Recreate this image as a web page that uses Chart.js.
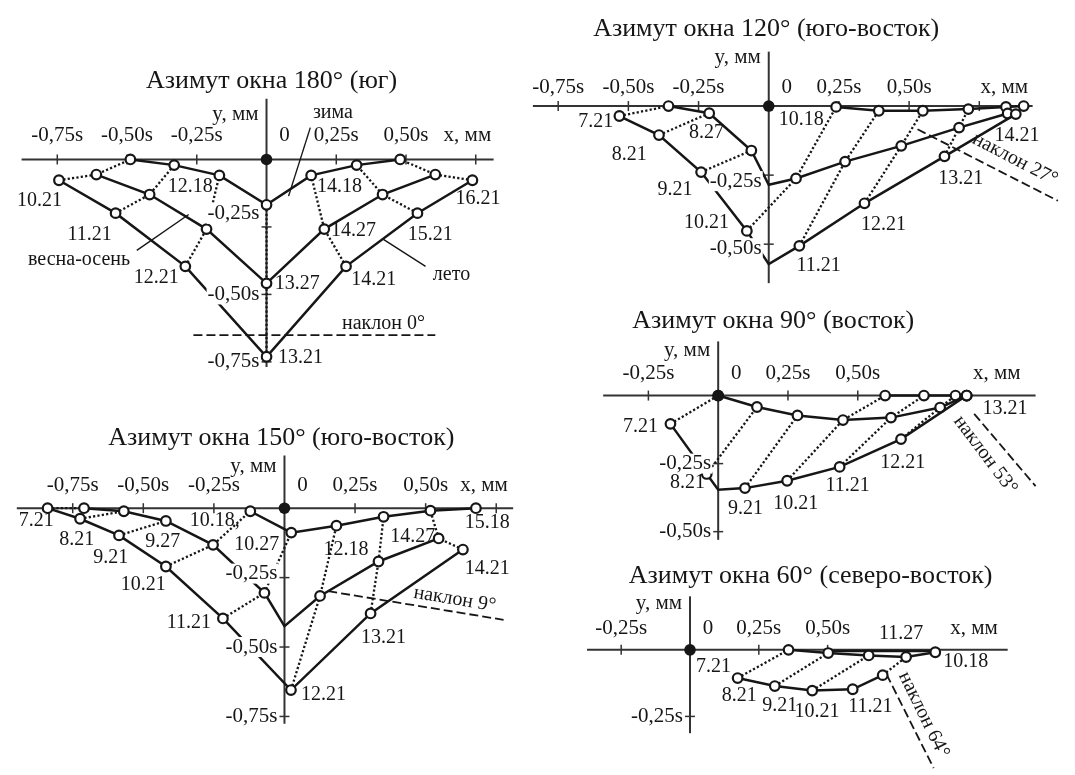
<!DOCTYPE html>
<html>
<head>
  <meta charset="utf-8">
  <title>Траектории солнечного пятна</title>
  <script src="https://cdn.jsdelivr.net/npm/chart.js"></script>
  <style>
    body { margin: 0; background: #fff; }
    #page { position: relative; width: 1075px; height: 775px; overflow: hidden; background: #fff; }
    #page canvas { position: absolute; }
  </style>
</head>
<body>
  <div id="page"></div>
  <script>
    // values in units of s (the tick step is 0.25s); hours like '10.21' = time of the point
    // null hour = bend of a curve at x = 0 with no marker

    // Азимут окна 180° (юг)
    const az180_summer_x = [-0.744, -0.541, -0.291, 0, 0.285, 0.541, 0.738];
    const az180_summer_y = [-0.077, -0.199, -0.396, -0.731, -0.396, -0.199, -0.077];
    const az180_summer_h = ['10.21', '11.21', '12.21', '13.21', '14.21', '15.21', '16.21'];
    const az180_equinox_x = [-0.610, -0.419, -0.215, 0, 0.207, 0.416, 0.605];
    const az180_equinox_y = [-0.056, -0.130, -0.258, -0.459, -0.258, -0.130, -0.056];
    const az180_equinox_h = ['10.27', '11.27', '12.27', '13.27', '14.27', '15.27', '16.27'];
    const az180_winter_x = [-0.488, -0.331, -0.169, 0, 0.160, 0.323, 0.479];
    const az180_winter_y = [0, -0.021, -0.059, -0.168, -0.059, -0.021, 0];
    const az180_winter_h = ['10.18', '11.18', '12.18', '13.18', '14.18', '15.18', '16.18'];
    const az180_xticks = [-0.75, -0.5, -0.25, 0.25, 0.5, 0.75];
    const az180_xtickLabels = ['-0,75s', '-0,50s', '-0,25s', '0,25s', '0,50s', ''];
    const az180_yticks = [-0.25, -0.5, -0.75];
    const az180_ytickLabels = ['-0,25s', '-0,50s', '-0,75s'];

    // Азимут окна 150° (юго-восток)
    const az150_summer_x = [-0.839, -0.724, -0.586, -0.420, -0.218, 0.023, 0.305, 0.632];
    const az150_summer_y = [0, -0.038, -0.098, -0.210, -0.397, -0.655, -0.379, -0.149];
    const az150_summer_h = ['7.21', '8.21', '9.21', '10.21', '11.21', '12.21', '13.21', '14.21'];
    const az150_equinox_x = [-0.710, -0.569, -0.420, -0.253, -0.071, 0, 0.126, 0.333, 0.546];
    const az150_equinox_y = [0, -0.011, -0.046, -0.132, -0.305, -0.425, -0.316, -0.192, -0.109];
    const az150_equinox_h = ['7.27', '8.27', '9.27', '10.27', '11.27', null, '12.27', '13.27', '14.27'];
    const az150_winter_x = [-0.121, 0.024, 0.184, 0.351, 0.517, 0.678];
    const az150_winter_y = [-0.011, -0.088, -0.063, -0.031, -0.009, 0];
    const az150_winter_h = ['10.18', '11.18', '12.18', '13.18', '14.18', '15.18'];
    const az150_xticks = [-0.75, -0.5, -0.25, 0.25, 0.5, 0.75];
    const az150_xtickLabels = ['-0,75s', '-0,50s', '-0,25s', '0,25s', '0,50s', ''];
    const az150_yticks = [-0.25, -0.5, -0.75];
    const az150_ytickLabels = ['-0,25s', '-0,50s', '-0,75s'];

    // Азимут окна 120° (юго-восток)
    const az120_summer_x = [-0.532, -0.391, -0.241, -0.078, 0, 0.109, 0.341, 0.626, 0.880];
    const az120_summer_y = [-0.036, -0.105, -0.239, -0.452, -0.572, -0.506, -0.352, -0.182, -0.029];
    const az120_summer_h = ['7.21', '8.21', '9.21', '10.21', null, '11.21', '12.21', '13.21', '14.21'];
    const az120_equinox_x = [-0.357, -0.212, -0.062, 0, 0.097, 0.272, 0.472, 0.678, 0.851];
    const az120_equinox_y = [0, -0.026, -0.161, -0.285, -0.262, -0.201, -0.144, -0.078, -0.027];
    const az120_equinox_h = ['7.27', '8.27', '9.27', null, '10.27', '11.27', '12.27', '13.27', '14.27'];
    const az120_winter_x = [0.240, 0.392, 0.549, 0.711, 0.845, 0.908];
    const az120_winter_y = [-0.003, -0.017, -0.017, -0.011, -0.003, 0];
    const az120_winter_h = ['10.18', '11.18', '12.18', '13.18', '14.18', '15.18'];
    const az120_xticks = [-0.75, -0.5, -0.25, 0.25, 0.5, 0.75];
    const az120_xtickLabels = ['-0,75s', '-0,50s', '-0,25s', '0,25s', '0,50s', ''];
    const az120_yticks = [-0.25, -0.5];
    const az120_ytickLabels = ['-0,25s', '-0,50s'];

    // Азимут окна 90° (восток)
    const az90_summer_x = [-0.171, -0.041, 0, 0.096, 0.247, 0.435, 0.655, 0.890];
    const az90_summer_y = [-0.104, -0.288, -0.346, -0.340, -0.313, -0.262, -0.160, 0];
    const az90_summer_h = ['7.21', '8.21', null, '9.21', '10.21', '11.21', '12.21', '13.21'];
    const az90_equinox_x = [0, 0.139, 0.284, 0.447, 0.619, 0.795, 0.890];
    const az90_equinox_y = [0, -0.042, -0.073, -0.090, -0.081, -0.044, 0];
    const az90_equinox_h = ['7.27', '8.27', '9.27', '10.27', '11.27', '12.27', '13.27'];
    const az90_winter_x = [0.598, 0.737, 0.850, 0.890];
    const az90_winter_y = [0, 0, 0, 0];
    const az90_winter_h = ['10.18', '11.18', '12.18', '13.18'];
    const az90_xticks = [-0.25, 0.25, 0.5];
    const az90_xtickLabels = ['-0,25s', '0,25s', '0,50s'];
    const az90_yticks = [-0.25, -0.5];
    const az90_ytickLabels = ['-0,25s', '-0,50s'];

    // Азимут окна 60° (северо-восток)
    const az60_summer_x = [0.173, 0.308, 0.444, 0.591, 0.700];
    const az60_summer_y = [-0.106, -0.136, -0.153, -0.148, -0.095];
    const az60_summer_h = ['7.21', '8.21', '9.21', '10.21', '11.21'];
    const az60_equinox_x = [0.358, 0.502, 0.649, 0.785, 0.891];
    const az60_equinox_y = [0, -0.012, -0.021, -0.027, -0.009];
    const az60_equinox_h = ['7.27', '8.27', '9.27', '11.27', '12.27'];
    const az60_winter_x = [0.520, 0.891];
    const az60_winter_y = [-0.004, -0.004];
    const az60_winter_h = [null, null];
    const az60_xticks = [-0.25, 0.25, 0.5];
    const az60_xtickLabels = ['-0,25s', '0,25s', '0,50s'];
    const az60_yticks = [-0.25];
    const az60_ytickLabels = ['-0,25s'];

    const INK = '#161616';
    const AXIS = '#333';
    const SERIF = '"Liberation Serif", "DejaVu Serif", serif';

    // text annotations: [text, x, y] in the chart's own units (centre of the text)
    const az180_labels = [
      ['10.21', -0.814, -0.154], ['11.21', -0.634, -0.278], ['12.21', -0.395, -0.438],
      ['13.27', 0.110, -0.462], ['14.21', 0.384, -0.444], ['15.21', 0.587, -0.278],
      ['16.21', 0.758, -0.147], ['12.18', -0.273, -0.101], ['14.18', 0.262, -0.101],
      ['14.27', 0.312, -0.263], ['13.21', 0.122, -0.734], ['зима', 0.238, 0.172],
      ['весна-осень', -0.672, -0.373], ['лето', 0.663, -0.426]
    ];
    const az150_labels = [
      ['7.21', -0.879, -0.046], ['8.21', -0.736, -0.115], ['9.21', -0.615, -0.178],
      ['9.27', -0.431, -0.121], ['10.18,', -0.247, -0.046], ['10.27', -0.098, -0.132],
      ['10.21', -0.5, -0.276], ['12.18', 0.218, -0.149], ['14.27', 0.454, -0.103],
      ['15.18', 0.718, -0.052], ['14.21', 0.718, -0.218], ['11.21', -0.339, -0.414],
      ['13.21', 0.351, -0.466], ['12.21', 0.138, -0.672]
    ];
    const az120_labels = [
      ['7.21', -0.616, -0.055], ['8.21', -0.497, -0.176], ['8.27', -0.222, -0.096],
      ['9.21', -0.334, -0.302], ['10.21', -0.222, -0.423], ['11.21', 0.178, -0.578],
      ['12.21', 0.409, -0.429], ['13.21', 0.684, -0.262], ['14.21', 0.884, -0.107],
      ['10.18', 0.116, -0.049]
    ];
    const az90_labels = [
      ['7.21', -0.278, -0.114], ['8.21', -0.110, -0.322], ['9.21', 0.098, -0.414],
      ['10.21', 0.278, -0.397], ['11.21', 0.464, -0.333], ['12.21', 0.661, -0.247],
      ['13.21', 1.027, -0.049]
    ];
    const az60_labels = [
      ['7.21', 0.085, -0.062], ['8.21', 0.179, -0.174], ['9.21', 0.326, -0.209],
      ['10.21', 0.461, -0.232], ['11.21', 0.655, -0.215], ['11.27', 0.767, 0.059],
      ['10.18', 1.002, -0.045]
    ];

    function pts(xs, ys, hs) {
      return xs.map((x, i) => ({ x: x, y: ys[i], h: hs[i] }));
    }

    function curve(data) {
      return {
        data: data, showLine: true, order: 1,
        borderColor: INK, borderWidth: 2.5,
        pointRadius: c => (c.raw && c.raw.h) ? 4.8 : 0,
        pointHoverRadius: c => (c.raw && c.raw.h) ? 4.8 : 0,
        pointBackgroundColor: '#fff', pointBorderColor: INK, pointBorderWidth: 2.2
      };
    }

    // dotted lines joining points of the same hour (summer -> equinox -> winter)
    function hourLines(seasons) {
      const groups = {};
      seasons.forEach(s => s.forEach(p => {
        if (!p.h) return;
        const hr = p.h.split('.')[0];
        (groups[hr] = groups[hr] || []).push({ x: p.x, y: p.y });
      }));
      return Object.values(groups).filter(g => g.length > 1).map(g => ({
        data: g, showLine: true, order: 2,
        borderColor: INK, borderWidth: 2.3, borderDash: [2.2, 2.2],
        pointRadius: 0, pointHoverRadius: 0
      }));
    }

    const decor = {
      id: 'decor',
      beforeDatasetsDraw(chart, args, o) {
        const ctx = chart.ctx, xs = chart.scales.x, ys = chart.scales.y;
        const X = v => xs.getPixelForValue(v), Y = v => ys.getPixelForValue(v);
        const seg = (a, b, c, d) => { ctx.beginPath(); ctx.moveTo(a, b); ctx.lineTo(c, d); ctx.stroke(); };
        ctx.save();
        ctx.strokeStyle = AXIS;
        ctx.lineWidth = 2;
        seg(X(o.xAxis[0]), Y(0), X(o.xAxis[1]), Y(0));
        seg(X(0), Y(o.yAxis[0]), X(0), Y(o.yAxis[1]));
        ctx.lineWidth = 1.5;
        o.xTicks.forEach(t => seg(X(t), Y(0) - 5, X(t), Y(0) + 5));
        o.yTicks.forEach(t => seg(X(0) - 5, Y(t), X(0) + 5, Y(t)));
        ctx.strokeStyle = INK;
        ctx.lineWidth = 1.4;
        (o.leaders || []).forEach(l => seg(X(l[0]), Y(l[1]), X(l[2]), Y(l[3])));
        if (o.tilt) {
          ctx.lineWidth = 1.8;
          ctx.setLineDash([9, 4]);
          seg(X(o.tilt.from[0]), Y(o.tilt.from[1]), X(o.tilt.to[0]), Y(o.tilt.to[1]));
          ctx.setLineDash([]);
        }
        ctx.restore();
      },
      afterDatasetsDraw(chart, args, o) {
        const ctx = chart.ctx, xs = chart.scales.x, ys = chart.scales.y;
        const X = v => xs.getPixelForValue(v), Y = v => ys.getPixelForValue(v);
        ctx.save();
        ctx.fillStyle = INK;
        ctx.textBaseline = 'middle';

        // y tick labels, on a white patch like in the print
        ctx.font = '21px ' + SERIF;
        ctx.textAlign = 'right';
        o.yTicks.forEach((t, i) => {
          const s = o.yTickLabels[i], w = ctx.measureText(s).width;
          const px = X(0) - 7, py = Y(t) + (o.yLabelDy ? o.yLabelDy[i] : 0);
          ctx.fillStyle = '#fff';
          ctx.fillRect(px - w - 1, py - 10, w + 2, 20);
          ctx.fillStyle = INK;
          ctx.fillText(s, px, py);
        });

        // x tick labels above the axis
        ctx.textAlign = 'center';
        o.xTicks.forEach((t, i) => {
          if (o.xTickLabels[i]) ctx.fillText(o.xTickLabels[i], X(t), Y(0) - o.tickDy);
        });
        ctx.fillText('0', X(0) + 18, Y(0) - o.tickDy);
        ctx.fillText('x, мм', X(o.xName), Y(0) - o.tickDy);
        ctx.textAlign = 'right';
        ctx.fillText('y, мм', X(0) - 8, Y(o.yName));

        // point labels
        ctx.font = '20px ' + SERIF;
        ctx.textAlign = 'center';
        o.labels.forEach(l => ctx.fillText(l[0], X(l[1]), Y(l[2])));

        if (o.tilt) {
          ctx.save();
          ctx.translate(X(o.tilt.at[0]), Y(o.tilt.at[1]));
          ctx.rotate(o.tilt.angle * Math.PI / 180);
          ctx.fillText(o.tilt.text, 0, 0);
          ctx.restore();
        }

        ctx.font = '26px ' + SERIF;
        ctx.fillText(o.title, X(o.titleAt[0]), Y(o.titleAt[1]));

        // origin: the window point
        ctx.beginPath();
        ctx.arc(X(0), Y(0), 5.8, 0, Math.PI * 2);
        ctx.fill();
        ctx.restore();
      }
    };

    // box = canvas [left, top, width, height] on the page, origin in page px, k = px per unit s
    function makeChart(box, origin, k, seasons, deco) {
      const [L, T, W, H] = box, [ox, oy] = origin, [kx, ky] = k;
      const cv = document.createElement('canvas');
      cv.width = W; cv.height = H;
      cv.style.left = L + 'px'; cv.style.top = T + 'px';
      document.getElementById('page').appendChild(cv);
      const datasets = seasons.map(curve).concat(hourLines(seasons));
      return new Chart(cv, {
        type: 'scatter',
        data: { datasets: datasets },
        options: {
          responsive: false, animation: false, events: [],
          layout: { padding: 0 },
          elements: { line: { tension: 0 } },
          scales: {
            x: { type: 'linear', display: false, min: (L - ox) / kx, max: (L + W - ox) / kx },
            y: { type: 'linear', display: false, min: (oy - T - H) / ky, max: (oy - T) / ky }
          },
          plugins: { legend: { display: false }, tooltip: { enabled: false }, decor: deco }
        },
        plugins: [decor]
      });
    }

    makeChart([0, 55, 520, 335], [266.7, 156.7], [286.7, 281.7], [
      pts(az180_summer_x, az180_summer_y, az180_summer_h),
      pts(az180_equinox_x, az180_equinox_y, az180_equinox_h),
      pts(az180_winter_x, az180_winter_y, az180_winter_h)
    ], {
      title: 'Азимут окна 180° (юг)', titleAt: [0.018, 0.29],
      xAxis: [-0.878, 0.814], yAxis: [0.225, -0.769],
      xTicks: az180_xticks, xTickLabels: az180_xtickLabels, tickDy: 24,
      yTicks: az180_yticks, yTickLabels: az180_ytickLabels, yLabelDy: [-13, 0, 0],
      xName: 0.72, yName: 0.166,
      labels: az180_labels,
      leaders: [[0.157, 0.118, 0.079, -0.136], [-0.465, -0.337, -0.279, -0.204], [0.570, -0.396, 0.419, -0.296]],
      tilt: { from: [-0.262, -0.651], to: [0.605, -0.651], text: 'наклон 0°', at: [0.419, -0.609], angle: 0 }
    });

    makeChart([0, 415, 530, 330], [285, 505], [290, 290], [
      pts(az150_summer_x, az150_summer_y, az150_summer_h),
      pts(az150_equinox_x, az150_equinox_y, az150_equinox_h),
      pts(az150_winter_x, az150_winter_y, az150_winter_h)
    ], {
      title: 'Азимут окна 150° (юго-восток)', titleAt: [-0.011, 0.253],
      xAxis: [-0.948, 0.81], yAxis: [0.19, -0.776],
      xTicks: az150_xticks, xTickLabels: az150_xtickLabels, tickDy: 23,
      yTicks: az150_yticks, yTickLabels: az150_ytickLabels, yLabelDy: [-4, 0, 0],
      xName: 0.707, yName: 0.149,
      labels: az150_labels,
      tilt: { from: [0.155, -0.299], to: [0.776, -0.402], text: 'наклон 9°', at: [0.603, -0.328], angle: 9.4 }
    });

    makeChart([520, 0, 555, 295], [768, 104], [288, 290], [
      pts(az120_summer_x, az120_summer_y, az120_summer_h),
      pts(az120_equinox_x, az120_equinox_y, az120_equinox_h),
      pts(az120_winter_x, az120_winter_y, az120_winter_h)
    ], {
      title: 'Азимут окна 120° (юго-восток)', titleAt: [-0.009, 0.278],
      xAxis: [-0.84, 0.94], yAxis: [0.197, -0.641],
      xTicks: az120_xticks, xTickLabels: az120_xtickLabels, tickDy: 19,
      yTicks: az120_yticks, yTickLabels: az120_ytickLabels, yLabelDy: [6, 4],
      xName: 0.839, yName: 0.176,
      labels: az120_labels,
      tilt: { from: [0.53, -0.084], to: [1.03, -0.343], text: 'наклон 27°', at: [0.877, -0.193], angle: 27.5 }
    });

    makeChart([580, 295, 495, 255], [715, 394], [287.3, 288], [
      pts(az90_summer_x, az90_summer_y, az90_summer_h),
      pts(az90_equinox_x, az90_equinox_y, az90_equinox_h),
      pts(az90_winter_x, az90_winter_y, az90_winter_h)
    ], {
      title: 'Азимут окна 90° (восток)', titleAt: [0.197, 0.274],
      xAxis: [-0.412, 1.137], yAxis: [0.199, -0.53],
      xTicks: az90_xticks, xTickLabels: az90_xtickLabels, tickDy: 22,
      yTicks: az90_yticks, yTickLabels: az90_ytickLabels,
      xName: 0.998, yName: 0.164,
      labels: az90_labels,
      tilt: { from: [0.917, -0.067], to: [1.137, -0.333], text: 'наклон 53°', at: [0.957, -0.218], angle: 53 }
    });

    makeChart([580, 550, 495, 225], [686, 649], [283.3, 284], [
      pts(az60_summer_x, az60_summer_y, az60_summer_h),
      pts(az60_equinox_x, az60_equinox_y, az60_equinox_h),
      pts(az60_winter_x, az60_winter_y, az60_winter_h)
    ], {
      title: 'Азимут окна 60° (северо-восток)', titleAt: [0.438, 0.278],
      xAxis: [-0.374, 1.154], yAxis: [0.201, -0.313],
      xTicks: az60_xticks, xTickLabels: az60_xtickLabels, tickDy: 21,
      yTicks: az60_yticks, yTickLabels: az60_ytickLabels,
      xName: 1.032, yName: 0.173,
      labels: az60_labels,
      tilt: { from: [0.714, -0.092], to: [0.885, -0.444], text: 'наклон 64°', at: [0.849, -0.244], angle: 64 }
    });
  </script>
</body>
</html>
